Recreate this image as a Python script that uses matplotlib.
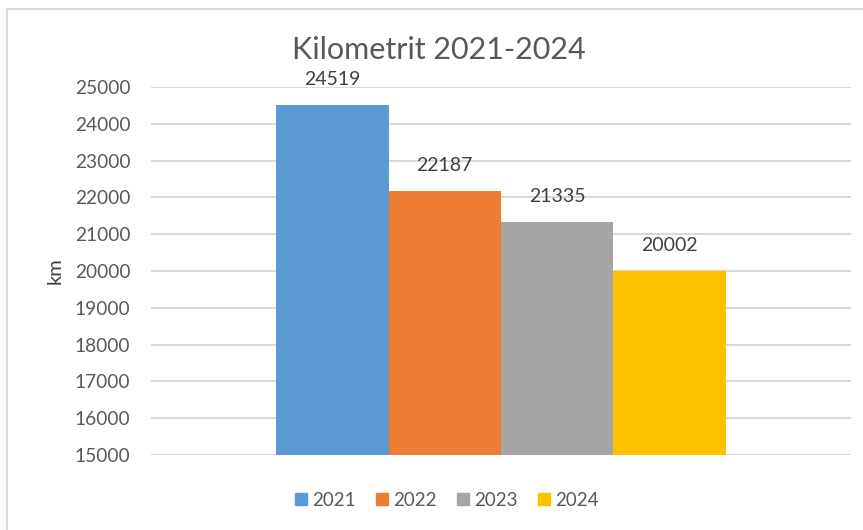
import matplotlib
matplotlib.use("Agg")
import matplotlib.pyplot as plt
from matplotlib.lines import Line2D

years = ["2021", "2022", "2023", "2024"]
values = [24519, 22187, 21335, 20002]
colors = ["#5b9bd5", "#ed7d31", "#a5a5a5", "#ffc000"]
yticks = [15000, 16000, 17000, 18000, 19000, 20000, 21000, 22000, 23000, 24000, 25000]

plt.rcParams['font.family'] = ['Lato', 'DejaVu Sans']
W, H = 863, 530
fig = plt.figure(figsize=(W/100, H/100), dpi=100)
ax = fig.add_axes([151/W, 1-455/H, 700/W, 368/H])

bw = 0.1607
offsets = [-1.5*bw, -0.5*bw, 0.5*bw, 1.5*bw]
for y, v, c, o in zip(years, values, colors, offsets):
    ax.bar(o, v - 15000, bottom=15000, width=bw, color=c, label=y, zorder=3)
    ax.annotate(str(v), (o, v), xytext=(0, 25), textcoords='offset pixels',
                ha='center', va='center', fontsize=14, color='#404040')

ax.set_xlim(-0.5, 0.5)
ax.set_ylim(15000, 25000)
ax.set_yticks(yticks)
ax.set_yticklabels([str(t) for t in yticks], fontsize=13.8, color='#595959')
ax.set_xticks([])
ax.tick_params(axis='y', length=0, pad=15)
for s in ax.spines.values():
    s.set_visible(False)
ax.grid(axis='y', color='#d9d9d9', linewidth=1.5, zorder=0)
ax.set_ylabel('km', fontsize=14.5, color='#404040', labelpad=8)

fig.text(439/W, 1-50/H, 'Kilometrit 2021-2024', ha='center', va='center', fontsize=22, color='#595959')

handles = [Line2D([], [], marker='s', linestyle='', markersize=9, color=c) for c in colors]
fig.legend(handles, years, loc='center', bbox_to_anchor=(446/W, 1-500/H), ncol=4, frameon=False,
           fontsize=13.5, labelcolor='#595959', handletextpad=0.2, columnspacing=1.0, handlelength=0.8)

# chart border (left and top visible)
fig.add_artist(Line2D([7/W, 7/W], [0, 1-9/H], transform=fig.transFigure, color='#d9d9d9', linewidth=1.5))
fig.add_artist(Line2D([7/W, 1], [1-9/H, 1-9/H], transform=fig.transFigure, color='#d9d9d9', linewidth=1.5))

fig.savefig('out.png', dpi=100)
